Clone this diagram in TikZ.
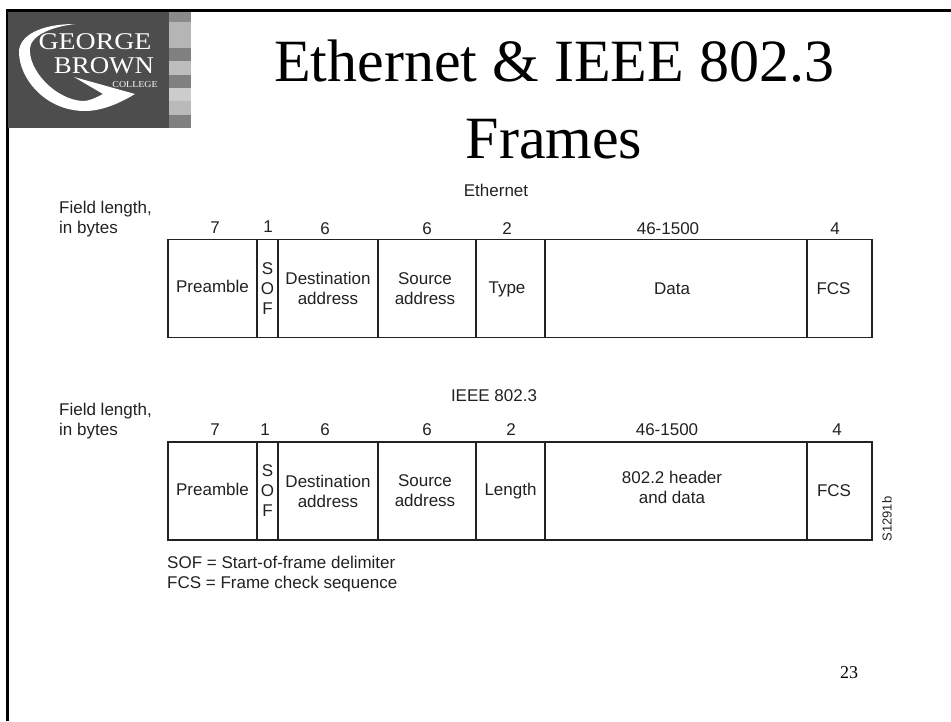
\documentclass[tikz,border=0pt]{standalone}
\usepackage{fontspec}
\setmainfont{Liberation Sans}
\newfontfamily\serifface{Liberation Serif}
\definecolor{ink}{HTML}{222222}
\definecolor{logodark}{HTML}{4D4D4D}
\tikzset{
  field/.style={draw=ink,line width=1.2pt,minimum height=98pt,inner sep=0pt,outer sep=0pt,align=center,font=\fontsize{17}{20}\selectfont,text=ink},
  lbl/.style={inner sep=0pt,text=ink,font=\fontsize{17}{20}\selectfont,align=left},
  ftext/.style={inner sep=0pt,outer sep=0pt,text=ink,font=\fontsize{17}{20}\selectfont,align=center},
  band/.style={fill=#1,draw=none},
  titletext/.style={inner sep=0pt,font=\serifface\fontsize{60}{60}\selectfont,text=black},
  logotext/.style={inner sep=0pt,text=white,font=\serifface\fontsize{#1}{#1}\selectfont}
}
\begin{document}
\begin{tikzpicture}[x=1pt,y=-1pt]
\useasboundingbox (0,0) rectangle (951,721);
\fill[white] (0,0) rectangle (951,721);
% border
\draw[line width=3pt,black] (7,721) -- (7,10.5) -- (951,10.5);
% logo
\fill[logodark] (8,12) rectangle (169,128);
\fill[band={black!46}] (169,12) rectangle (191,22);
\fill[band={black!29}] (169,22) rectangle (191,48);
\fill[band={black!50}] (169,48) rectangle (191,61);
\fill[band={black!26}] (169,61) rectangle (191,75);
\fill[band={black!50}] (169,75) rectangle (191,88);
\fill[band={black!20}] (169,88) rectangle (191,101);
\fill[band={black!27}] (169,101) rectangle (191,115);
\fill[band={black!50}] (169,115) rectangle (191,128);
\fill[white] (75,24) .. controls (40,24) and (19,36) .. (19,52)
  .. controls (19,78) and (45,111) .. (85,111)
  .. controls (105,111) and (125,100) .. (135,94)
  -- (74,77) -- (103,94)
  .. controls (95,98) and (90,101) .. (82,101)
  .. controls (55,99) and (28,70) .. (30,48)
  .. controls (31,36) and (50,27) .. (75,24) -- cycle;
\node[logotext=24,xscale=1.16] (lg) at (95,42) {GEORGE};
\node[logotext=24,xscale=1.12] (lb) at (104,66) {BROWN};
\node[logotext=9,xscale=1.1] (lc) at (135,85) {COLLEGE};
% title
\node[titletext] (t1) at (554,61) {Ethernet \& IEEE 802.3};
\node[titletext] (t2) at (554,139) {Frames};
\node (n23) [inner sep=0pt,font=\serifface\fontsize{18}{18}\selectfont] at (849,673) {23};
% Ethernet
\node[lbl] (ethcap) at (496,190) {Ethernet};
\node[lbl,anchor=west] (fl1) at (59,219) {Field length,\\in bytes};
\node[field,minimum width=89pt,label={[ftext,yshift=2pt]center:Preamble}] (a1) at (212.5,288.5) {};
\node[field,minimum width=21pt] (a2) at (267.5,288.5) {S\\O\\F};
\node[field,minimum width=100pt] (a3) at (328,288.5) {Destination\\address};
\node[field,minimum width=98pt,label={[ftext,xshift=-2pt]center:Source\\address}] (a4) at (427,288.5) {};
\node[field,minimum width=69pt,label={[ftext,xshift=-3.5pt,yshift=-0.5pt]center:Type}] (a5) at (510.5,288.5) {};
\node[field,minimum width=262pt,label={[ftext,xshift=-4pt]center:Data}] (a6) at (676,288.5) {};
\node[field,minimum width=65pt,label={[ftext,xshift=-6pt]center:FCS}] (a7) at (839.5,288.5) {};
\foreach \n/\x/\y/\t in {a/215/228/7,b/268/227/1,c/325/229/6,d/427/229/6,e/507/229/2,f/668/229/46-1500,g/835/229/4}
  \node[lbl] (ha\n) at (\x,\y) {\t};
% IEEE
\node[lbl] (ieeecap) at (494,396) {IEEE 802.3};
\node[lbl,anchor=west] (fl2) at (59,421) {Field length,\\in bytes};
\node[field,minimum width=89pt,label={[ftext,yshift=2pt]center:Preamble}] (b1) at (212.5,491) {};
\node[field,minimum width=21pt] (b2) at (267.5,491) {S\\O\\F};
\node[field,minimum width=100pt] (b3) at (328,491) {Destination\\address};
\node[field,minimum width=98pt,label={[ftext,xshift=-2pt]center:Source\\address}] (b4) at (427,491) {};
\node[field,minimum width=69pt] (b5) at (510.5,491) {Length};
\node[field,minimum width=262pt,label={[ftext,xshift=-4pt,yshift=4pt]center:802.2 header\\and data}] (b6) at (676,491) {};
\node[field,minimum width=65pt,label={[ftext,xshift=-5.5pt]center:FCS}] (b7) at (839.5,491) {};
\foreach \n/\x/\t in {a/215/7,b/265/1,c/325/6,d/427/6,e/511/2,f/667/46-1500,g/837/4}
  \node[lbl] (hb\n) at (\x,430) {\t};
\node[lbl,rotate=90,font=\fontsize{13}{15}\selectfont] (code) at (887,519) {S1291b};
\node[lbl,anchor=west] (leg) at (167,574) {SOF = Start-of-frame delimiter\\FCS = Frame check sequence};
\end{tikzpicture}
\end{document}
